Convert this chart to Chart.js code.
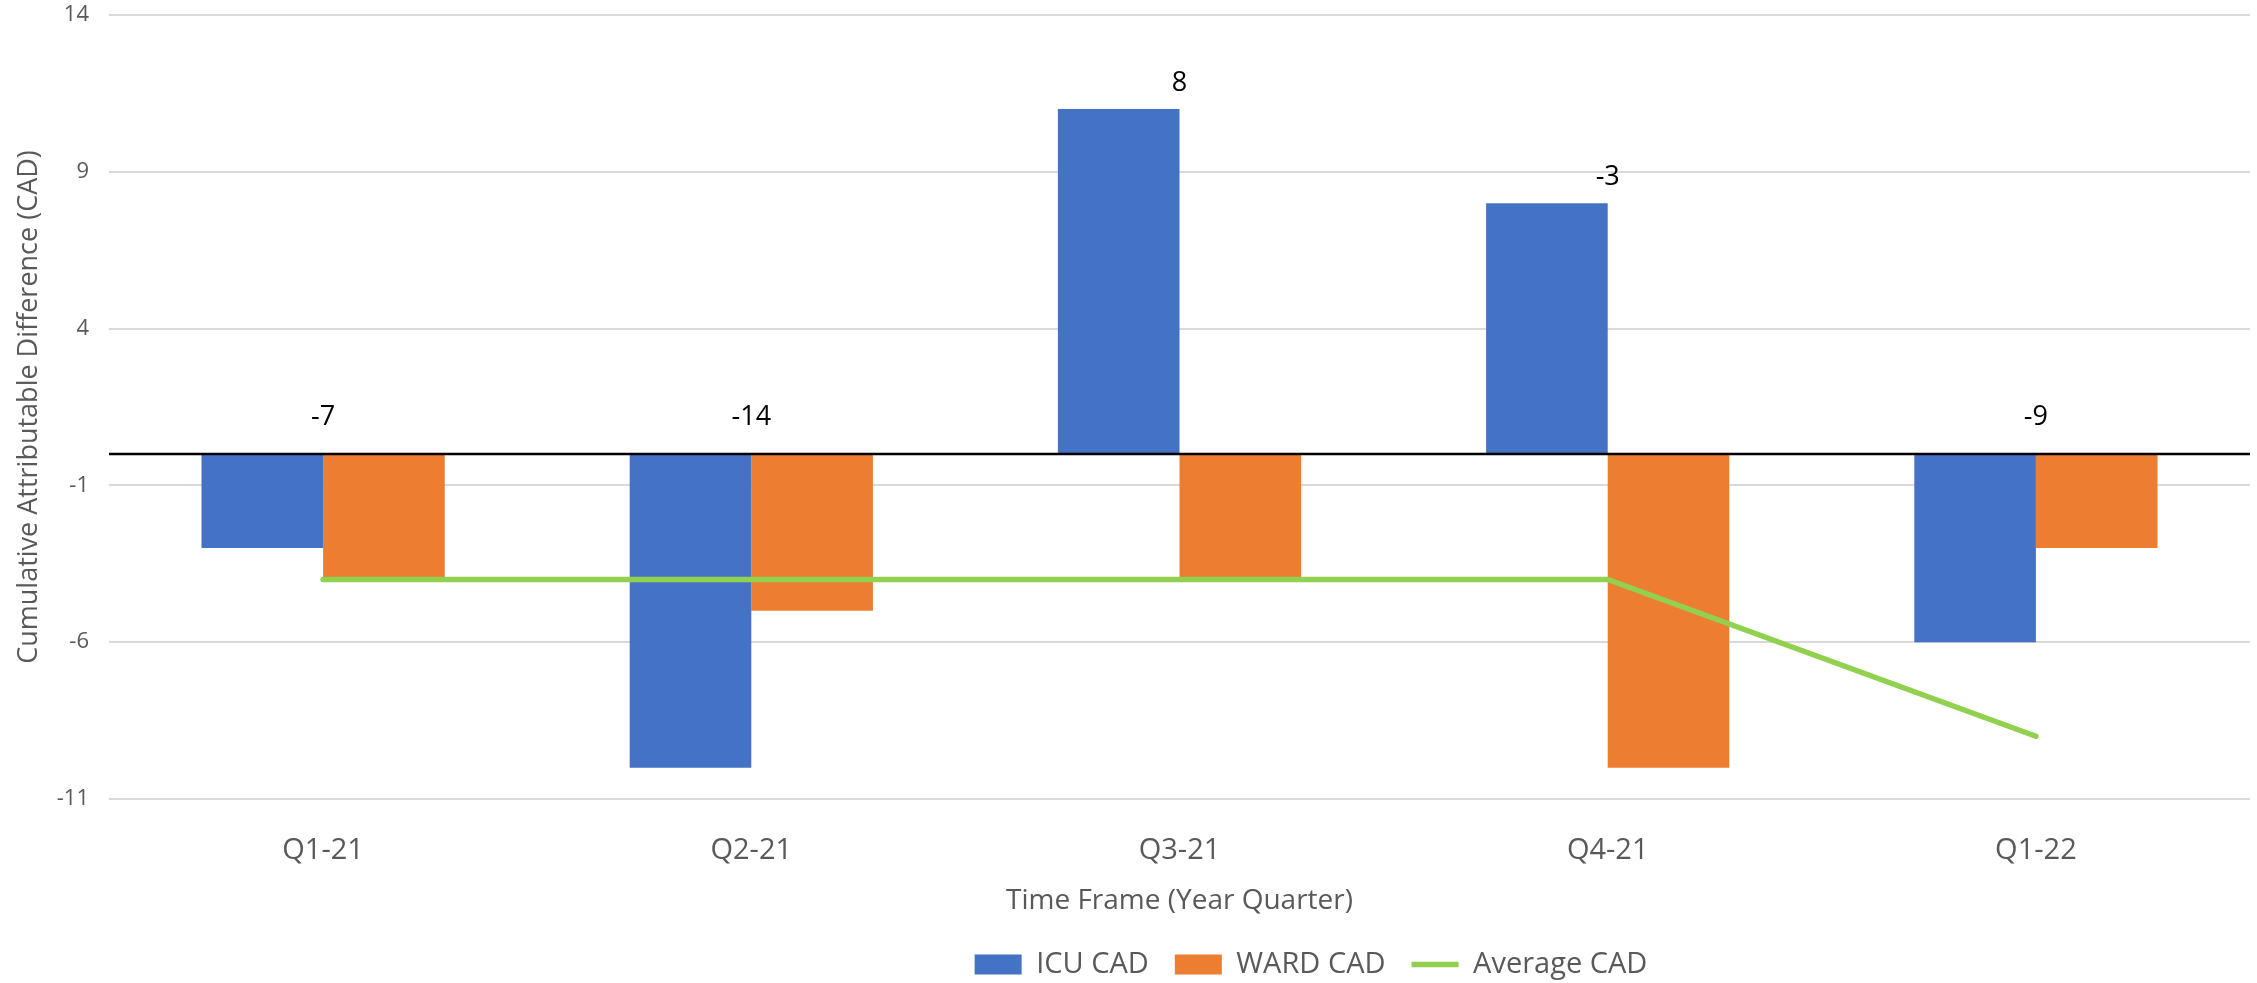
<!DOCTYPE html>
<html>
<head>
<meta charset="utf-8">
<title>Cumulative Attributable Difference</title>
<script src="https://cdn.jsdelivr.net/npm/chart.js@4.4.0/dist/chart.umd.min.js"></script>
<style>
  html, body { margin: 0; padding: 0; background: #fff; }
  #wrap { width: 2257px; height: 983px; }
</style>
</head>
<body>
<div id="wrap"><canvas id="chartCad"></canvas></div>
<script>
// ---- data ----
const quarters = ['Q1-21', 'Q2-21', 'Q3-21', 'Q4-21', 'Q1-22'];
const icuCad = [-3, -10, 11, 8, -6];
const wardCad = [-4, -5, -4, -10, -3];
const averageCad = [-4, -4, -4, -4, -9];
const totalLabels = ['-7', '-14', '8', '-3', '-9'];
const yTicks = [-11, -6, -1, 4, 9, 14];

const grey = '#595959';
const fontName = "'Open Sans', 'Noto Sans', sans-serif";

// black line at zero
const zeroLine = {
  id: 'zeroLine',
  afterDatasetsDraw(chart) {
    const { ctx, chartArea, scales } = chart;
    const y = scales.y.getPixelForValue(0);
    ctx.save();
    ctx.strokeStyle = '#000';
    ctx.lineWidth = 2.5;
    ctx.beginPath();
    ctx.moveTo(chartArea.left, y);
    ctx.lineTo(chartArea.right, y);
    ctx.stroke();
    ctx.restore();
  }
};

// the total labels above each quarter
const totalText = {
  id: 'totalText',
  afterDatasetsDraw(chart) {
    const { ctx, scales } = chart;
    ctx.save();
    ctx.fillStyle = '#000';
    ctx.font = '27px ' + fontName;
    ctx.textAlign = 'center';
    ctx.textBaseline = 'middle';
    quarters.forEach((q, i) => {
      const x = scales.x.getPixelForValue(i);
      const top = Math.max(0, icuCad[i], wardCad[i]);
      const y = scales.y.getPixelForValue(top) - (top > 0 ? 26 : 37);
      ctx.fillText(totalLabels[i], x, y);
    });
    ctx.restore();
  }
};

// legend sits a bit right of centre and a little lower in the original
const legendShift = {
  id: 'legendShift',
  afterLayout(chart) {
    const lg = chart.legend;
    const dx = 1311 - (lg.left + lg.right) / 2;
    lg.left += dx;
    lg.right += dx;
    lg.top += 6;
    lg.bottom += 6;
  }
};

const ctx = document.getElementById('chartCad');
new Chart(ctx, {
  type: 'bar',
  data: {
    labels: quarters,
    datasets: [
      {
        label: 'ICU CAD',
        data: icuCad,
        backgroundColor: '#4472C4',
        borderWidth: 0,
        pointStyle: 'rect',
        order: 1
      },
      {
        label: 'WARD CAD',
        data: wardCad,
        backgroundColor: '#ED7D31',
        borderWidth: 0,
        pointStyle: 'rect',
        order: 1
      },
      {
        type: 'line',
        label: 'Average CAD',
        data: averageCad,
        borderColor: '#92D050',
        backgroundColor: '#92D050',
        borderWidth: 5.5,
        borderCapStyle: 'round',
        pointRadius: 0,
        pointStyle: 'line',
        tension: 0,
        order: 0
      }
    ]
  },
  options: {
    responsive: true,
    maintainAspectRatio: false,
    animation: false,
    layout: { padding: { left: 0, right: 7, top: 0, bottom: 0 } },
    datasets: {
      bar: { categoryPercentage: 0.568, barPercentage: 1 }
    },
    plugins: {
      tooltip: { enabled: false },
      legend: {
        position: 'bottom',
        labels: {
          usePointStyle: true,
          pointStyleWidth: 47,
          boxHeight: 20,
          padding: 26,
          color: grey,
          font: { family: fontName, size: 29 },
          sort: (a, b) => a.datasetIndex - b.datasetIndex
        }
      }
    },
    scales: {
      x: {
        grid: { display: false, drawTicks: false },
        border: { display: false },
        ticks: { color: grey, font: { family: fontName, size: 29 }, padding: 34 },
        title: {
          display: true,
          text: 'Time Frame (Year Quarter)',
          color: grey,
          font: { family: fontName, size: 28 },
          padding: { top: 0, bottom: 0 }
        },
        afterFit: s => { s.height = 119; }
      },
      y: {
        min: -11,
        max: 14,
        afterBuildTicks: s => { s.ticks = yTicks.map(v => ({ value: v })); },
        grid: { color: '#D9D9D9', lineWidth: 2, drawTicks: false },
        border: { display: false },
        ticks: { color: grey, font: { family: fontName, size: 22 }, padding: 20 },
        title: {
          display: true,
          text: 'Cumulative Attributable Difference (CAD)',
          color: grey,
          font: { family: fontName, size: 27 },
          padding: { top: 13, bottom: 0 }
        },
        afterFit: s => {
          s.width = 109;
          s.paddingTop = 15;
          s.paddingBottom = 0;
        }
      }
    }
  },
  plugins: [zeroLine, totalText, legendShift]
});
</script>
</body>
</html>
